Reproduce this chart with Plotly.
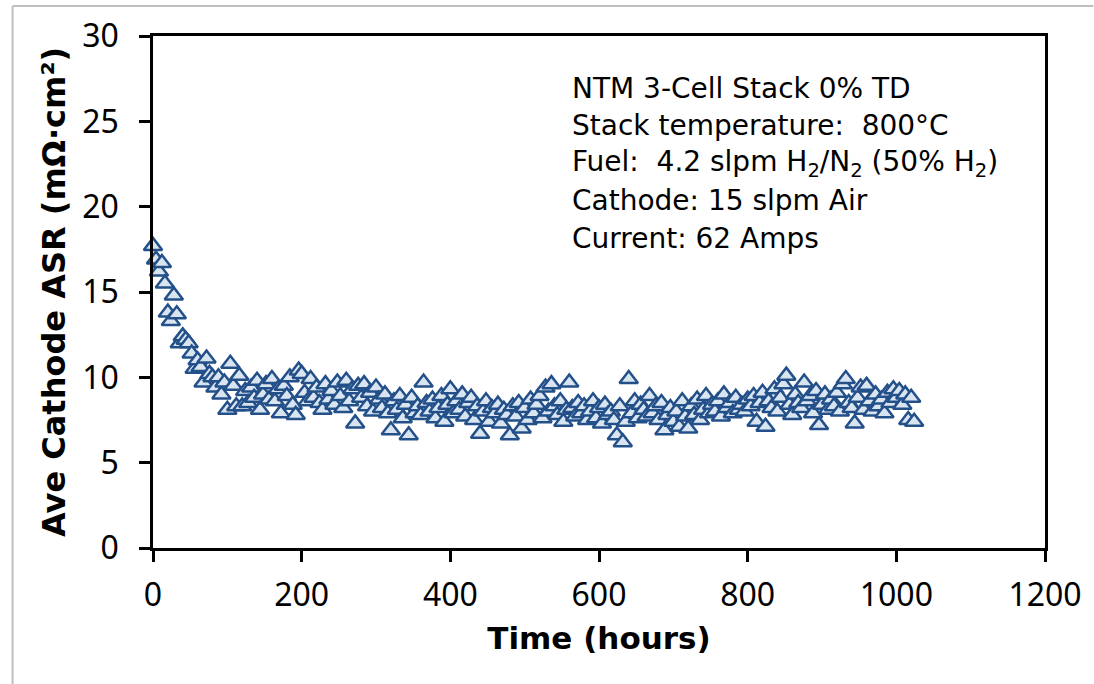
import plotly.graph_objects as go

# Operating hours of the stack (logged every 4 h)
hours = [
    0, 4, 8, 12, 16, 20, 24, 28, 32, 36,
    40, 44, 48, 52, 56, 60, 64, 68, 72, 76,
    80, 84, 88, 92, 96, 100, 104, 108, 112, 116,
    120, 124, 128, 132, 136, 140, 144, 148, 152, 156,
    160, 164, 168, 172, 176, 180, 184, 188, 192, 196,
    200, 204, 208, 212, 216, 220, 224, 228, 232, 236,
    240, 244, 248, 252, 256, 260, 264, 268, 272, 276,
    280, 284, 288, 292, 296, 300, 304, 308, 312, 316,
    320, 324, 328, 332, 336, 340, 344, 348, 352, 356,
    360, 364, 368, 372, 376, 380, 384, 388, 392, 396,
    400, 404, 408, 412, 416, 420, 424, 428, 432, 436,
    440, 444, 448, 452, 456, 460, 464, 468, 472, 476,
    480, 484, 488, 492, 496, 500, 504, 508, 512, 516,
    520, 524, 528, 532, 536, 540, 544, 548, 552, 556,
    560, 564, 568, 572, 576, 580, 584, 588, 592, 596,
    600, 604, 608, 612, 616, 620, 624, 628, 632, 636,
    640, 644, 648, 652, 656, 660, 664, 668, 672, 676,
    680, 684, 688, 692, 696, 700, 704, 708, 712, 716,
    720, 724, 728, 732, 736, 740, 744, 748, 752, 756,
    760, 764, 768, 772, 776, 780, 784, 788, 792, 796,
    800, 804, 808, 812, 816, 820, 824, 828, 832, 836,
    840, 844, 848, 852, 856, 860, 864, 868, 872, 876,
    880, 884, 888, 892, 896, 900, 904, 908, 912, 916,
    920, 924, 928, 932, 936, 940, 944, 948, 952, 956,
    960, 964, 968, 972, 976, 980, 984, 988, 992, 996,
    1000, 1004, 1008, 1012, 1016, 1020, 1024,
]

# Average cathode area-specific resistance, mOhm*cm^2
asr = [
    17.7, 16.9, 16.2, 16.7, 15.5, 13.8, 13.3, 14.8, 13.7, 12.0,
    12.4, 12.2, 12.0, 11.4, 10.5, 11.0, 10.6, 9.7, 11.1, 10.2,
    10.0, 9.4, 10.0, 9.0, 9.7, 8.1, 10.8, 9.5, 8.3, 10.1,
    8.3, 9.2, 8.5, 9.4, 8.8, 9.8, 8.1, 9.0, 9.6, 8.7,
    9.9, 8.6, 9.3, 7.9, 9.5, 8.9, 10.0, 8.4, 7.8, 10.4,
    10.2, 9.1, 8.6, 9.9, 8.8, 9.4, 8.5, 8.1, 9.6, 8.7,
    9.2, 8.4, 9.7, 8.9, 8.2, 9.8, 8.6, 9.3, 7.3, 9.5,
    8.8, 9.6, 8.3, 9.1, 8.0, 9.4, 8.7, 8.2, 9.0, 7.9,
    6.9, 8.6, 8.1, 8.9, 7.6, 8.4, 6.6, 8.8, 7.9, 8.3,
    7.8, 9.7, 8.5, 8.0, 8.7, 7.6, 8.2, 8.9, 7.4, 8.4,
    9.3, 7.9, 8.6, 8.1, 9.0, 7.7, 8.5, 8.8, 7.5, 8.3,
    6.7, 8.0, 8.6, 7.4, 8.2, 7.9, 8.4, 7.3, 8.1, 7.8,
    6.6, 8.3, 7.7, 8.5, 7.0, 8.2, 7.5, 8.7, 7.9, 8.4,
    8.9, 7.6, 9.4, 8.0, 9.6, 8.3, 7.8, 8.6, 7.4, 8.1,
    9.7, 8.2, 7.7, 8.5, 7.9, 8.3, 7.5, 8.0, 8.6, 7.6,
    8.2, 7.3, 8.4, 7.8, 8.0, 7.5, 6.6, 8.3, 6.2, 7.4,
    9.9, 7.9, 8.6, 7.6, 8.4, 8.1, 7.7, 8.9, 7.9, 8.3,
    7.5, 8.5, 6.9, 7.8, 8.2, 7.4, 8.0, 7.1, 8.6, 7.7,
    7.0, 8.3, 7.8, 8.7, 7.5, 8.1, 8.9, 7.9, 8.4, 8.0,
    8.6, 7.7, 9.0, 8.2, 8.5, 7.9, 8.8, 8.1, 8.4, 8.0,
    8.7, 8.3, 8.9, 7.4, 8.5, 9.1, 7.1, 8.6, 8.2, 9.3,
    8.0, 8.8, 9.6, 10.1, 8.4, 7.8, 9.0, 8.5, 8.2, 9.7,
    8.6, 8.9, 7.9, 9.2, 7.2, 8.4, 9.0, 8.1, 8.7, 8.3,
    9.1, 8.0, 9.6, 9.9, 8.5, 8.2, 7.3, 8.8, 9.4, 8.1,
    9.5, 8.6, 8.0, 9.0, 8.3, 8.7, 7.9, 9.1, 8.5, 9.3,
    8.8, 9.2, 8.4, 9.0, 7.5, 8.8, 7.4,
]

x_ticks = [0, 200, 400, 600, 800, 1000, 1200]
y_ticks = [0, 5, 10, 15, 20, 25, 30]

info_lines = [
    "NTM 3-Cell Stack 0% TD",
    "Stack temperature:  800°C",
    "Fuel:  4.2 slpm H<sub>2</sub>/N<sub>2</sub> (50% H<sub>2</sub>)",
    "Cathode: 15 slpm Air",
    "Current: 62 Amps",
]

W, H = 1094, 684
ML, MR, MT, MB = 153, 39, 36, 136
TICK_FONT = "Noto Sans"
TEXT_FONT = "DejaVu Sans"

fig = go.Figure()
fig.add_trace(go.Scatter(
    x=hours, y=asr, mode="markers",
    marker=dict(symbol="triangle-up", size=16, color="#D9E4F1",
                line=dict(color="#24508A", width=2.5)),
    showlegend=False, cliponaxis=False,
))

axis_common = dict(
    showgrid=False, zeroline=False, showline=True, mirror=True,
    linecolor="black", linewidth=2.5,
    ticks="outside", ticklen=11, tickwidth=2.5, tickcolor="black",
    tickfont=dict(family=TICK_FONT, size=32, color="black"),
)

fig.update_xaxes(range=[0, 1200], tickvals=x_ticks, ticktext=[str(v) for v in x_ticks],
                 ticklabelstandoff=6,
                 title=dict(text="<b>Time (hours)</b>", standoff=14,
                            font=dict(family=TEXT_FONT, size=31, color="black")),
                 **axis_common)
fig.update_yaxes(range=[0, 30], tickvals=y_ticks, ticktext=[str(v) for v in y_ticks],
                 ticklabelstandoff=14,
                 title=dict(text="<b>Ave Cathode ASR (mΩ·cm²)</b>", standoff=8,
                            font=dict(family=TEXT_FONT, size=32, color="black")),
                 **axis_common)

# Text block with the test conditions
line_y = [26.95, 24.78, 22.55, 20.39, 18.16]
for txt, yv in zip(info_lines, line_y):
    fig.add_annotation(x=561, y=yv, xref="x", yref="y", text=txt, showarrow=False,
                       xanchor="left", yanchor="middle", align="left",
                       font=dict(family=TEXT_FONT, size=28, color="black"))

# Light grey frame around the chart area (left and top edges)
pw, ph = W - ML - MR, H - MT - MB
x_left = (11 - ML) / pw
y_top = (H - MB - 6) / ph
fig.add_shape(type="line", xref="paper", yref="paper", x0=x_left, x1=x_left,
              y0=y_top, y1=-(MB + 10) / ph, line=dict(color="#BFBFBF", width=2))
fig.add_shape(type="line", xref="paper", yref="paper", x0=x_left, x1=(W - ML + 10) / pw,
              y0=y_top, y1=y_top, line=dict(color="#BFBFBF", width=2))

fig.update_layout(
    width=W, height=H,
    margin=dict(l=ML, r=MR, t=MT, b=MB),
    paper_bgcolor="white", plot_bgcolor="white",
    font=dict(family=TICK_FONT, color="black"),
)

fig.write_html("out.html")
